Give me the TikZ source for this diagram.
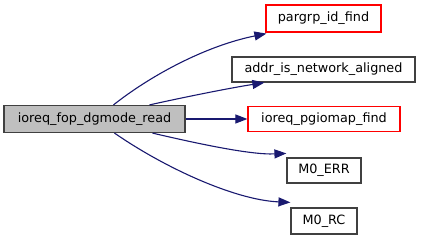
\documentclass[tikz,border=0pt]{standalone}
\usepackage{fontspec}
\setmainfont{DejaVu Sans}
\usetikzlibrary{arrows.meta}
\definecolor{edgeblue}{HTML}{191970}
\definecolor{boxgray}{HTML}{BFBFBF}
\definecolor{boxline}{HTML}{404040}
\begin{document}
\begin{tikzpicture}[x=1pt,y=-1pt,
  fn/.style={draw=boxline, line width=1.2pt, inner sep=0pt, minimum height=25pt,
             font=\fontsize{12.8}{15}\selectfont},
  undoc/.style={fn, draw=red},
  focus/.style={fn, fill=boxgray},
  call/.style={draw=edgeblue, line width=1.1pt,
               -{Triangle[length=12pt,width=9pt]}, fill=none}]
\useasboundingbox (0,0) rectangle (421,240);

% caller
\node[focus, minimum width=181pt, minimum height=27pt] (main) at (94.5,119) {ioreq\_fop\_dgmode\_read};

% callees
\node[undoc, minimum width=115pt, minimum height=27pt] (pargrp) at (323.5,18.5) {pargrp\_id\_find};
\node[fn, minimum width=183pt] (addr) at (323.5,69.5) {addr\_is\_network\_aligned};
\node[undoc, minimum width=152pt] (pgiomap) at (324,119) {ioreq\_pgiomap\_find};
\node[fn, minimum width=74pt] (err) at (324,170.5) {M0\_ERR};
\node[fn, minimum width=66pt, minimum height=26pt] (rc) at (324,221) {M0\_RC};

% call edges
\draw[call] ([xshift=19pt]main.north) .. controls (150,76) and (205,46) .. ([xshift=1pt,yshift=-1pt]pargrp.south west);
\draw[call] ([xshift=55pt]main.north) .. controls (185,97) and (230,88) .. ([xshift=33pt]addr.south west);
\draw[call] (main.east) -- (pgiomap.west);
\draw[call] ([xshift=58pt]main.south) .. controls (195,143) and (250,155) .. ([yshift=4pt]err.north west);
\draw[call] ([xshift=20pt]main.south) .. controls (165,168) and (235,200) .. ([yshift=5pt]rc.north west);
\end{tikzpicture}
\end{document}
